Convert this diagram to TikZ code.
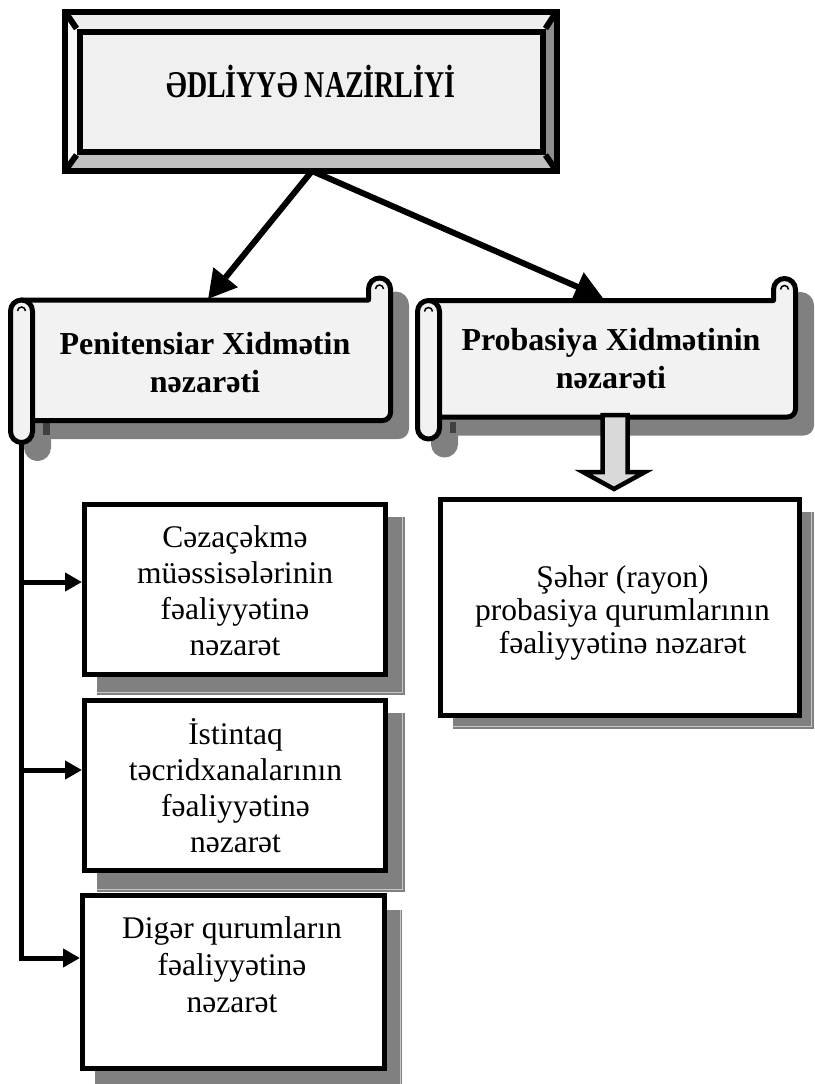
\documentclass[tikz,border=0pt]{standalone}
\usepackage{fontspec}
\setmainfont{Liberation Serif}
\usetikzlibrary{arrows.meta,calc}
\definecolor{shadowgray}{HTML}{808080}
\definecolor{darkshade}{HTML}{404040}
\definecolor{scrollfill}{HTML}{F2F2F2}
\definecolor{facemid}{HTML}{F0F0F0}
\definecolor{facetop}{HTML}{EEEEEE}
\definecolor{faceleft}{HTML}{F8F8F8}
\definecolor{faceright}{HTML}{8E8E8E}
\definecolor{facebottom}{HTML}{C0C0C0}
\definecolor{arrowfill}{HTML}{D9D9D9}
\definecolor{shadowline}{HTML}{C8C8C8}
\newcommand{\myscroll}[5]{% #1 style, #2 x0, #3 y0, #4 x1, #5 y1 ; roll size 22
  \path[#1] ({#2+11},#3) -- ({#4-22},#3) -- ({#4-22},{#3-11})
     arc[start angle=180,end angle=360,radius=11] -- (#4,{#5-8})
     arc[start angle=0,end angle=90,radius=8] -- ({#2+11},#5) -- cycle;
  \path[#1,rounded corners=11pt] (#2,#3) rectangle ({#2+22},{#5+22});
}
\tikzset{
  scrollline/.style={draw=black,fill=scrollfill,line width=5pt,line join=round},
  scrollshadow/.style={draw=shadowgray,fill=shadowgray,line width=5pt,line join=round},
  curl/.style={draw=black,line width=1.5pt},
  boxnode/.style={draw=black,fill=white,line width=5pt,rectangle,inner sep=0pt},
  boxshadow/.style={fill=shadowgray},
  shline/.style={draw=shadowline,line width=1pt},
  boxtext/.style={font=\fontsize{31.5}{36}\selectfont,align=center,inner sep=0pt,anchor=base},
  scrolltext/.style={font=\fontsize{32}{37.5}\selectfont\bfseries,align=center,inner sep=0pt,anchor=base},
  bigarrow/.style={line width=6pt,-{Triangle[length=28pt,width=30pt]}},
  conn/.style={line width=5pt,-{Triangle[length=17pt,width=18pt]}},
  blockarrow/.style={draw=black,fill=arrowfill,line width=4.5pt,line join=miter},
  bevel/.style={draw=black,line width=6pt,line join=miter},
}
\begin{document}
\begin{tikzpicture}[x=1pt,y=-1pt]
\useasboundingbox (0,0) rectangle (814,1084);
% ---------- title box (bevel) ----------
\fill[facetop] (65,11.5) -- (556.5,11.5) -- (542.5,31.5) -- (79.5,31.5) -- cycle;
\fill[faceleft] (65,11.5) -- (79.5,31.5) -- (79.5,152) -- (65,171) -- cycle;
\fill[faceright] (556.5,11.5) -- (556.5,171) -- (542.5,152) -- (542.5,31.5) -- cycle;
\fill[facebottom] (65,171) -- (556.5,171) -- (542.5,152) -- (79.5,152) -- cycle;
\node[rectangle,draw=black,fill=facemid,line width=6pt,inner sep=0pt,minimum width=463pt,minimum height=120.5pt] (min) at (311,91.75) {};
\draw[bevel] (65,11.5) rectangle (556.5,171);
\draw[bevel] (65,11.5) -- (min.north west);
\draw[bevel] (556.5,11.5) -- (min.north east);
\draw[bevel] (65,171) -- (min.south west);
\draw[bevel] (556.5,171) -- (min.south east);
\node[font=\fontsize{37.8}{40}\selectfont\bfseries,inner sep=0pt,anchor=base] (mint) at (311,97) {\scalebox{0.74}[1]{ƏDLİYYƏ NAZİRLİYİ}};
\coordinate (apex) at (312,171);
% ---------- scroll shadows ----------
\myscroll{scrollshadow}{26.5}{316}{406.5}{436.5}
\fill[darkshade] (43,423) rectangle (50,435);
\myscroll{scrollshadow}{433.5}{316.5}{811.5}{433}
\fill[darkshade] (450,422) rectangle (456,433);
% ---------- scrolls ----------
\myscroll{scrollline}{10.5}{300}{390.5}{420.5}
\draw[curl] (17.5,311) arc[start angle=180,end angle=360,radius=4];
\draw[curl] (375.5,289) arc[start angle=180,end angle=360,radius=4];
\myscroll{scrollline}{417.5}{300.5}{795.5}{417}
\draw[curl] (424.5,311.5) arc[start angle=180,end angle=360,radius=4];
\draw[curl] (780.5,289.5) arc[start angle=180,end angle=360,radius=4];
\node[scrolltext] (ps) at (205,392) {Penitensiar Xidmətin\\nəzarəti};
\node[scrolltext] (pr) at (611,388) {Probasiya Xidmətinin\\nəzarəti};
\coordinate (psroll) at (21.5,442);
\coordinate (pstop) at (208,299);
\coordinate (prtop) at (603,298);
% ---------- arrows from title ----------
\draw[bigarrow] (apex) -- (pstop);
\draw[bigarrow] (apex) -- (prtop);
% ---------- box shadows ----------
\fill[boxshadow] (97,517) rectangle (405,695);
\draw[shline] (97,692) -- (402.5,692) -- (402.5,517);
\fill[boxshadow] (97,713) rectangle (405,892);
\draw[shline] (97,889) -- (402.5,889) -- (402.5,713);
\fill[boxshadow] (95,910) rectangle (402,1090);
\draw[shline] (400,910) -- (400,1090);
\fill[boxshadow] (453,512) rectangle (814,729);
\draw[shline] (453,726) -- (811,726) -- (811,512);
% ---------- boxes ----------
\node[boxnode,minimum width=301pt,minimum height=170pt] (b1) at (235,589.5) {};
\node[boxnode,minimum width=301pt,minimum height=170pt] (b2) at (235,785.5) {};
\node[boxnode,minimum width=302pt,minimum height=173pt] (b3) at (233.5,982) {};
\node[boxnode,minimum width=359pt,minimum height=216pt] (rbox) at (620,607.5) {};
\node[boxtext] (b1t) at (235,655) {Cəzaçəkmə\\müəssisələrinin\\fəaliyyətinə\\nəzarət};
\node[boxtext] (b2t) at (235.5,852) {İstintaq\\təcridxanalarının\\fəaliyyətinə\\nəzarət};
\node[boxtext,font=\fontsize{31.5}{37}\selectfont] (b3t) at (232,1012) {Digər qurumların\\fəaliyyətinə\\nəzarət};
\node[boxtext,font=\fontsize{31.5}{33}\selectfont] (rt) at (622.5,653) {Şəhər (rayon)\\probasiya qurumlarının\\fəaliyyətinə nəzarət};
% ---------- block arrow ----------
\coordinate (bt) at ([xshift=-6pt,yshift=8pt]rbox.north);
\draw[blockarrow] (bt) -- ++(31,-17) -- ++(-17.5,0) -- ++(0,-57) -- ++(-25,0) -- ++(0,57) -- ++(-19.5,0) -- cycle;
% ---------- left connectors ----------
\coordinate (a1) at ([yshift=7.5pt]b1.west);
\coordinate (a2) at ([yshift=15.5pt]b2.west);
\coordinate (a3) at ([yshift=24pt]b3.west);
\draw[conn] (psroll) |- (a3);
\draw[conn] (psroll |- a1) -- (a1);
\draw[conn] (psroll |- a2) -- (a2);
\end{tikzpicture}
\end{document}
